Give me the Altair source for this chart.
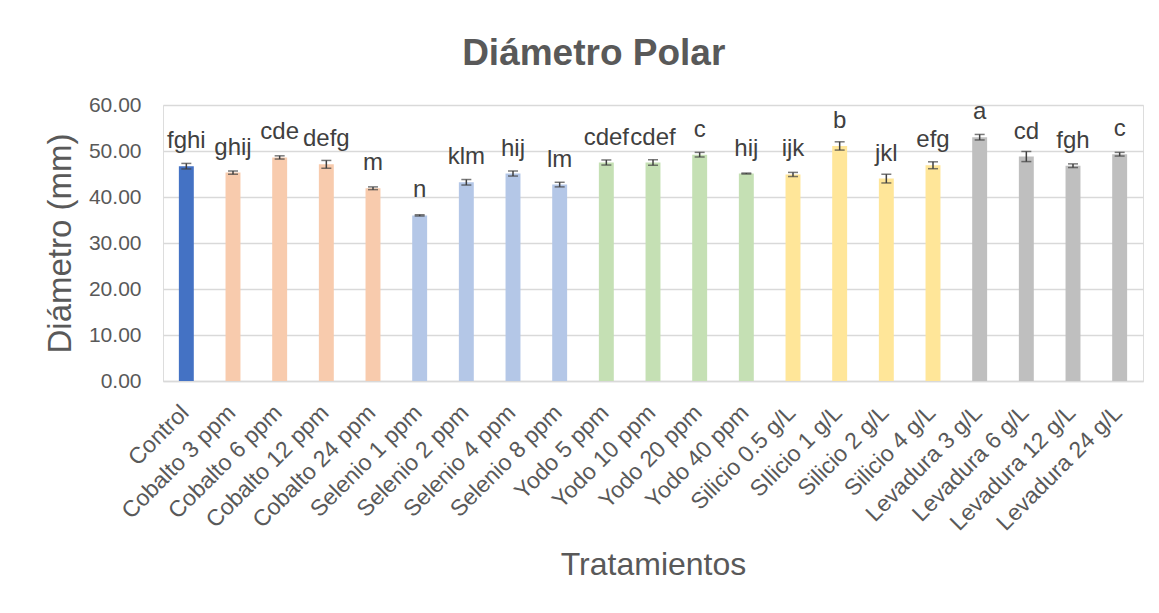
import altair as alt
import pandas as pd

treatments = [
    "Control", "Cobalto 3 ppm", "Cobalto 6 ppm", "Cobalto 12 ppm", "Cobalto 24 ppm",
    "Selenio 1 ppm", "Selenio 2 ppm", "Selenio 4 ppm", "Selenio 8 ppm",
    "Yodo 5 ppm", "Yodo 10 ppm", "Yodo 20 ppm", "Yodo 40 ppm",
    "Silicio 0.5 g/L", "SIlicio 1 g/L", "Silicio 2 g/L", "Silicio 4 g/L",
    "Levadura 3 g/L", "Levadura 6 g/L", "Levadura 12 g/L", "Levadura 24 g/L",
]
means = [46.7, 45.3, 48.6, 47.1, 41.9,
         36.0, 43.2, 45.1, 42.7,
         47.5, 47.5, 49.2, 45.1,
         44.9, 51.1, 44.0, 46.9,
         53.0, 48.8, 46.8, 49.3]
errors = [0.6, 0.35, 0.35, 0.85, 0.3,
          0.15, 0.6, 0.55, 0.5,
          0.55, 0.6, 0.5, 0.1,
          0.45, 0.9, 0.95, 0.75,
          0.6, 1.1, 0.4, 0.4]
letters = ["fghi", "ghij", "cde", "defg", "m",
           "n", "klm", "hij", "lm",
           "cdef", "cdef", "c", "hij",
           "ijk", "b", "jkl", "efg",
           "a", "cd", "fgh", "c"]
groups = ["Control"] + ["Cobalto"] * 4 + ["Selenio"] * 4 + ["Yodo"] * 4 + ["Silicio"] * 4 + ["Levadura"] * 4
group_names = ["Control", "Cobalto", "Selenio", "Yodo", "Silicio", "Levadura"]
group_colors = ["#4472C4", "#F8CBAD", "#B4C7E7", "#C5E0B4", "#FFE699", "#BFBFBF"]
y_ticks = [0, 10, 20, 30, 40, 50, 60]

df = pd.DataFrame({
    "Tratamiento": treatments,
    "Media": means,
    "Error": errors,
    "Letra": letters,
    "Grupo": groups,
})
df["lo"] = df["Media"] - df["Error"]
df["hi"] = df["Media"] + df["Error"]

FONT = "Liberation Sans"
GREY = "#595959"
ERR = "#404040"

x_axis = alt.Axis(
    title="Tratamientos", labelAngle=-45, labelAlign="right", labelBaseline="top",
    labelPadding=20, labelOffset=-9, labelFontSize=23, labelColor=GREY, labelFont=FONT,
    titleFontSize=32, titleColor=GREY, titleFont=FONT, titleFontWeight="normal",
    titlePadding=15, ticks=False, domainColor="#D9D9D9", domainWidth=1.5, grid=False,
    labelOverlap=False,
)
y_axis = alt.Axis(
    title="Diámetro (mm)", values=y_ticks, format=".2f", labelPadding=22,
    labelFontSize=21, labelColor=GREY, labelFont=FONT,
    titleFontSize=33, titleColor=GREY, titleFont=FONT, titleFontWeight="normal",
    titlePadding=11, ticks=False, domain=False, gridColor="#D9D9D9", gridWidth=1.5,
)

x_enc = alt.X("Tratamiento:N", sort=treatments,
              scale=alt.Scale(paddingInner=0.68, paddingOuter=0.34), axis=x_axis)
y_scale = alt.Scale(domain=[0, 60], nice=False)

base = alt.Chart(df)

bars = base.mark_bar().encode(
    x=x_enc,
    y=alt.Y("Media:Q", scale=y_scale, axis=y_axis),
    color=alt.Color("Grupo:N", scale=alt.Scale(domain=group_names, range=group_colors), legend=None),
)
rule = base.mark_rule(color=ERR, strokeWidth=1.5).encode(
    x=x_enc,
    y=alt.Y("lo:Q", scale=y_scale, axis=y_axis),
    y2="hi:Q",
)
tick_lo = base.mark_tick(color=ERR, thickness=1.5, size=10).encode(
    x=x_enc, y=alt.Y("lo:Q", scale=y_scale, axis=y_axis)
)
tick_hi = base.mark_tick(color=ERR, thickness=1.5, size=10).encode(
    x=x_enc, y=alt.Y("hi:Q", scale=y_scale, axis=y_axis)
)
text = base.mark_text(dy=-18, baseline="alphabetic", fontSize=24, color=ERR, font=FONT).encode(
    x=x_enc, y=alt.Y("Media:Q", scale=y_scale, axis=y_axis), text="Letra:N"
)

chart = alt.layer(bars, rule, tick_lo, tick_hi, text).properties(
    width=980, height=276,
    title=alt.TitleParams("Diámetro Polar", fontSize=37, font=FONT, fontWeight="bold",
                          color=GREY, anchor="middle", frame="bounds", offset=21),
    padding={"left": 36, "top": 27, "right": 8, "bottom": 8},
).configure_view(stroke=None).configure(background="white")

chart.save("out.html", embed_options={"renderer": "svg", "actions": False})
